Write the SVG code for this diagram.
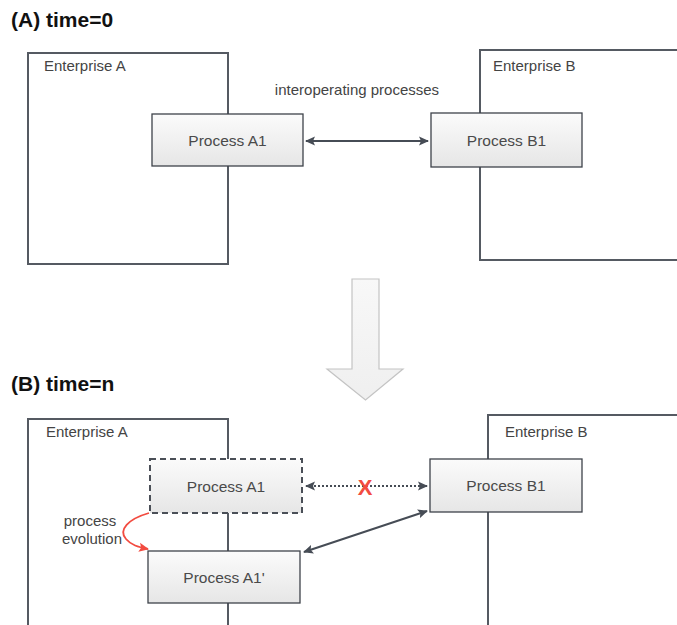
<svg xmlns="http://www.w3.org/2000/svg" width="677" height="625" viewBox="0 0 677 625">
<defs>
<linearGradient id="pg" x1="0" y1="0" x2="0" y2="1">
<stop offset="0" stop-color="#fbfbfb"/>
<stop offset="1" stop-color="#e6e6e6"/>
</linearGradient>
<linearGradient id="ag" x1="0" y1="0" x2="0" y2="1">
<stop offset="0" stop-color="#f8f8f8"/>
<stop offset="1" stop-color="#efefef"/>
</linearGradient>
<marker id="ah" viewBox="0 0 10 10" refX="9" refY="5" markerWidth="10" markerHeight="10" markerUnits="userSpaceOnUse" orient="auto-start-reverse">
<path d="M0,0.5 L10,5 L0,9.5 L2,5 Z" fill="#464c55"/>
</marker>
<marker id="ahr" viewBox="0 0 10 10" refX="9" refY="5" markerWidth="10" markerHeight="10" markerUnits="userSpaceOnUse" orient="auto">
<path d="M0,0.5 L10,5 L0,9.5 L2,5 Z" fill="#f24b40"/>
</marker>
</defs>
<style>
.ent{fill:#fff;stroke:#555a62;stroke-width:2}
.edge{fill:none;stroke:#555a62;stroke-width:2}
.proc{fill:url(#pg);stroke:#3e434a;stroke-width:1.3}
.dash{fill:url(#pg);stroke:#4a4f57;stroke-width:2;stroke-dasharray:6,4}
.t{font-family:"Liberation Sans",Arial,sans-serif;font-size:15.5px;fill:#4a4a4a}
.ts{font-family:"Liberation Sans",Arial,sans-serif;font-size:15px;fill:#444}
.title{font-family:"Liberation Sans",Arial,sans-serif;font-size:21px;font-weight:bold;fill:#111}
.con{fill:none;stroke:#464c55;stroke-width:2}
</style>
<text class="title" x="11" y="27">(A) time=0</text>
<text class="title" x="11" y="391">(B) time=n</text>

<g id="entA0">
<rect class="ent" x="28" y="53" width="200" height="211"/>
<text class="ts" x="44" y="71">Enterprise A</text>
</g>
<g id="entB0">
<path class="edge" d="M680,50 H480 V260 H680"/>
<text class="ts" x="493" y="71">Enterprise B</text>
</g>
<g id="procA1_0">
<rect class="proc" x="152" y="114" width="151" height="52"/>
<text class="t" x="227.5" y="146" text-anchor="middle">Process A1</text>
</g>
<g id="procB1_0">
<rect class="proc" x="431" y="113" width="151" height="54"/>
<text class="t" x="506.5" y="146" text-anchor="middle">Process B1</text>
</g>
<text class="ts" x="357" y="95" text-anchor="middle">interoperating processes</text>

<g id="bigArrow">
<path d="M352,279 H379 V369 H403 L365.5,400 L327,369 H352 Z" fill="url(#ag)" stroke="#c4c4c4" stroke-width="1.2"/>
</g>

<g id="entA1">
<path class="edge" d="M28,630 V419 H228 V459 M228,513 V551 M228,603 V630"/>
<text class="ts" x="46" y="437">Enterprise A</text>
</g>
<g id="entB1">
<path class="edge" d="M680,415 H488 V630"/>
<text class="ts" x="505" y="437">Enterprise B</text>
</g>
<g id="procA1_n">
<rect class="dash" x="150" y="459" width="152" height="54"/>
<text class="t" x="226" y="492" text-anchor="middle">Process A1</text>
</g>
<g id="procA1p">
<rect class="proc" x="148" y="551" width="152" height="52"/>
<text class="t" x="224" y="583" text-anchor="middle">Process A1'</text>
</g>
<g id="procB1_n">
<rect class="proc" x="430" y="459" width="152" height="53"/>
<text class="t" x="506" y="491" text-anchor="middle">Process B1</text>
</g>
<text class="ts" x="90" y="526" text-anchor="middle">process</text>
<text class="ts" x="92" y="544" text-anchor="middle">evolution</text>

<g id="connectors">
<line class="con" x1="306" y1="141" x2="428" y2="141" marker-start="url(#ah)" marker-end="url(#ah)"/>
<line class="con" x1="306" y1="486" x2="427" y2="486" stroke-dasharray="2,2" marker-start="url(#ah)" marker-end="url(#ah)"/>
<line class="con" x1="304" y1="552" x2="427" y2="511" marker-start="url(#ah)" marker-end="url(#ah)"/>
<path d="M149,513 C128,519 118,530 126,539 C131,545 138,547 148,549" fill="none" stroke="#f24b40" stroke-width="1.8" marker-end="url(#ahr)"/>
<text x="365" y="495" text-anchor="middle" font-family="Liberation Sans,Arial,sans-serif" font-size="22" font-weight="bold" fill="#f24b40">X</text>
</g>
</svg>
